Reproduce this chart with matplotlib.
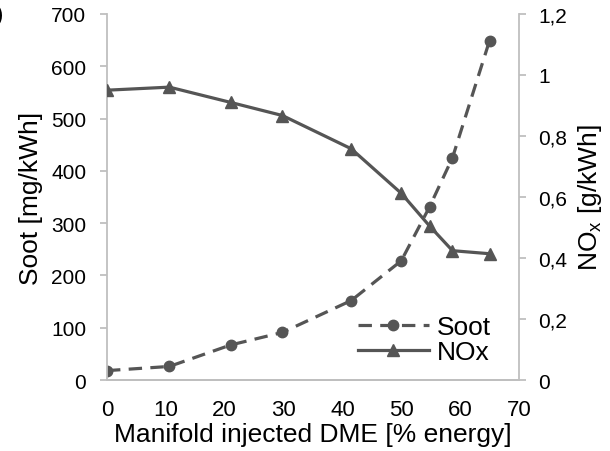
import matplotlib.pyplot as plt

plt.rcParams['font.family'] = ['Liberation Sans', 'DejaVu Sans']

# manifold injected DME share [% energy]
dme_share = [0, 10.6, 21, 29.8, 41.5, 50, 54.8, 58.7, 65]
soot = [18, 26, 67, 91, 152, 228, 331, 425, 649]          # mg/kWh
nox = [0.950, 0.960, 0.910, 0.867, 0.758, 0.612, 0.505, 0.424, 0.414]  # g/kWh

line_col = '#555555'
axis_col = '#bfbfbf'

fig = plt.figure(figsize=(6.1, 4.52), dpi=100)
ax = fig.add_axes([0.1754, 0.157, 0.6754, 0.81])
ax2 = ax.twinx()

l1, = ax.plot(dme_share, soot, color=line_col, lw=2.3, ls='--', dashes=(4.2, 2.6),
              marker='o', ms=7.5, label='Soot')
l2, = ax2.plot(dme_share, nox, color=line_col, lw=2.3, marker='^', ms=8.5, label='NOx')

ax.set_xlim(0, 70)
ax.set_ylim(0, 700)
ax.set_xticks(range(0, 71, 10))
ax.set_yticks(range(0, 701, 100))
ax2.set_ylim(0, 1.2)
ax2.set_yticks([0, 0.2, 0.4, 0.6, 0.8, 1.0, 1.2])
ax2.set_yticklabels(['0', '0,2', '0,4', '0,6', '0,8', '1', '1,2'])

for a in (ax, ax2):
    for s in a.spines.values():
        s.set_color(axis_col)
        s.set_linewidth(1.3)
    a.spines['top'].set_visible(False)
ax.spines['right'].set_visible(False)
ax2.spines['left'].set_visible(False)

ax.tick_params(axis='x', length=0, pad=14, labelsize=16)
ax.tick_params(axis='y', length=5, width=1.3, color=axis_col, pad=10, labelsize=15)
ax2.tick_params(axis='y', length=5, width=1.3, color=axis_col, pad=9, labelsize=15)

ax.set_xlabel('Manifold injected DME [% energy]', fontsize=19, labelpad=1)
ax.set_ylabel('Soot [mg/kWh]', fontsize=19, labelpad=6)
ax2.set_ylabel('NO$_\\mathregular{x}$ [g/kWh]', fontsize=19, rotation=90, labelpad=6)

ax.legend(handles=[l1, l2], loc='lower right', bbox_to_anchor=(0.97, 0.0),
          frameon=False, fontsize=19, handlelength=2.7, handletextpad=0.3,
          labelspacing=0.05, borderaxespad=0.2)

fig.text(0.005, 0.965, ')', ha='right', va='center', fontsize=16)

fig.savefig('out.png', dpi=100)
